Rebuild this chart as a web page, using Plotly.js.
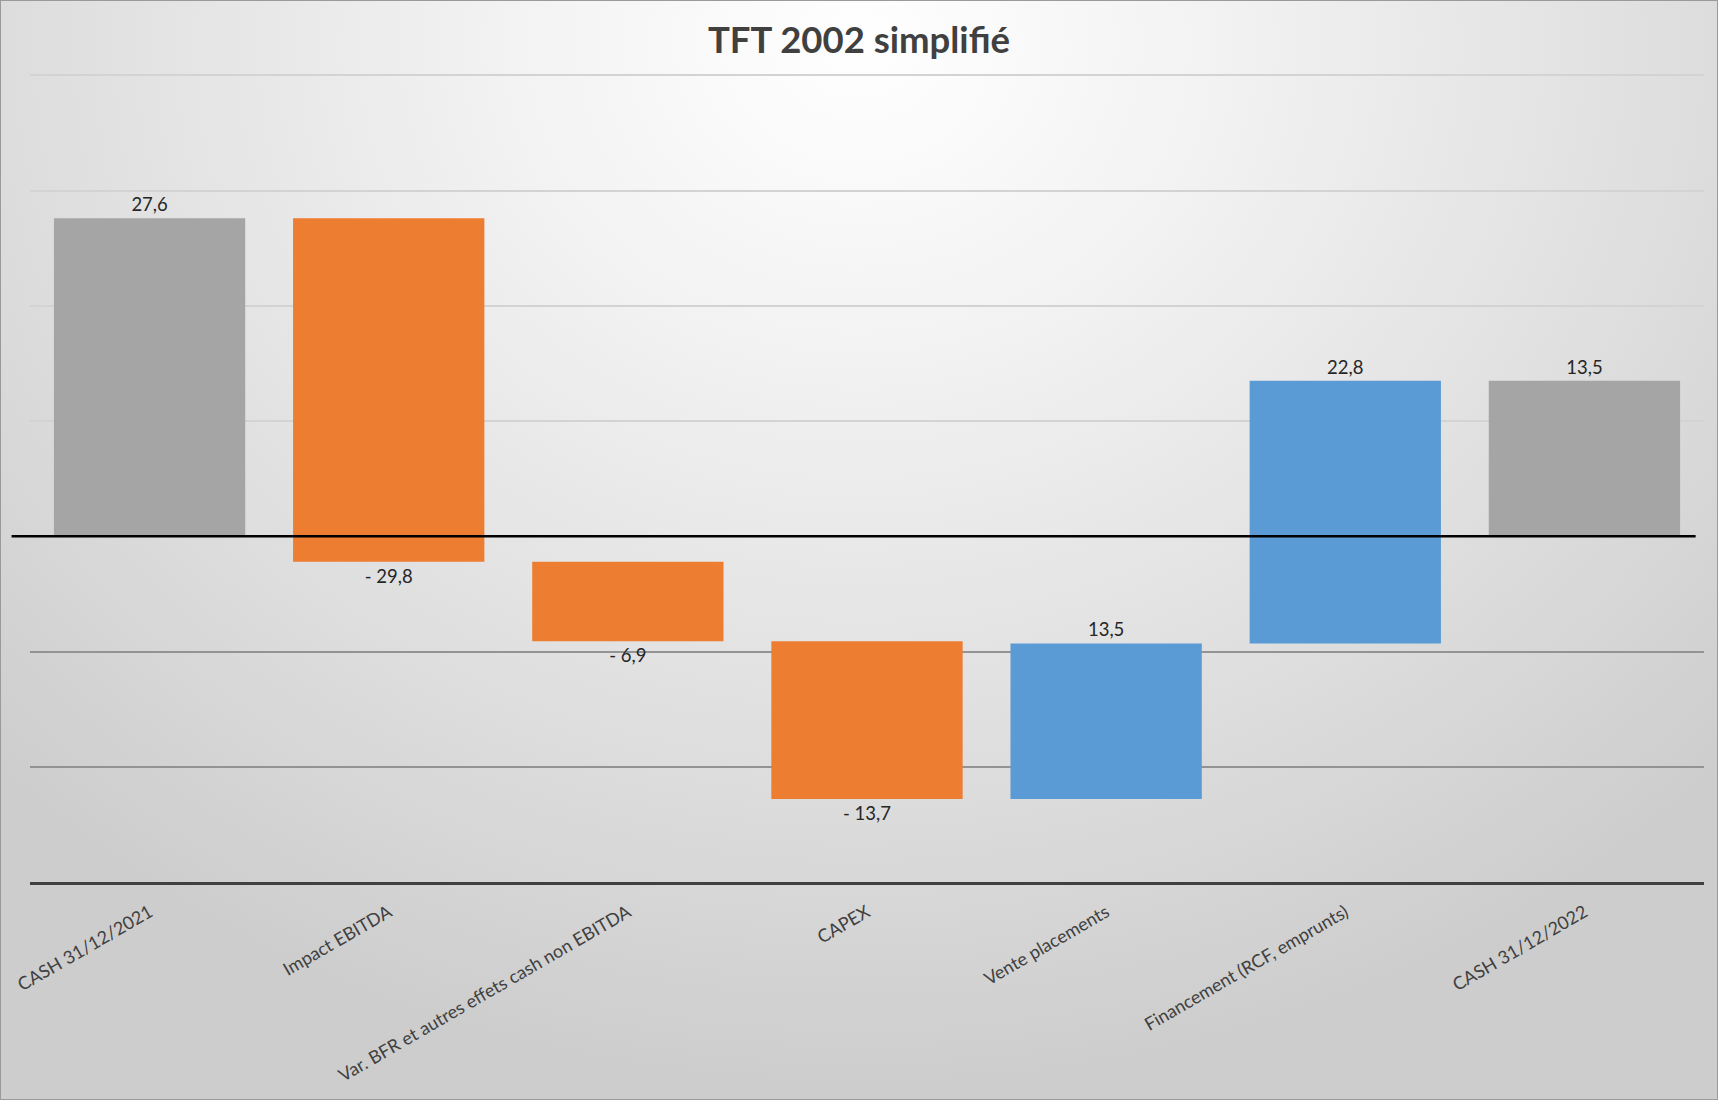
<!DOCTYPE html>
<html>
<head>
<meta charset="utf-8">
<script src="https://cdn.plot.ly/plotly-3.0.1.min.js"></script>
<style>
  html, body { margin: 0; padding: 0; width: 1718px; height: 1100px; overflow: hidden; }
  body {
    background: radial-gradient(ellipse 70% 95% at 50% 4%, #ffffff 0%, #f2f2f2 30%, #e0e0e0 65%, #cdcdcd 100%);
    box-sizing: border-box;
    border: 1px solid #9a9a9a;
  }
  #chart { width: 1716px; height: 1098px; }
</style>
</head>
<body>
<div id="chart"></div>
<script>
const categories = [
  "CASH 31/12/2021",
  "Impact EBITDA",
  "Var. BFR et autres effets cash non EBITDA",
  "CAPEX",
  "Vente placements",
  "Financement (RCF, emprunts)",
  "CASH 31/12/2022"
];
const values = [27.6, -29.8, -6.9, -13.7, 13.5, 22.8, 13.5];
const measures = ["absolute", "relative", "relative", "relative", "relative", "relative", "total"];
const upperGrid = [10, 20, 30, 40];
const lowerGrid = [-20, -10];

const labels = values.map(v => (v < 0 ? "- " : "") + Math.abs(v).toFixed(1).replace(".", ","));

const trace = {
  type: "waterfall",
  x: categories,
  y: values,
  measure: measures,
  text: labels,
  textposition: "outside",
  textfont: { family: "Lato, 'Open Sans', sans-serif", size: 18.5, color: "#262626" },
  cliponaxis: false,
  hoverinfo: "x+y",
  connector: { visible: false },
  increasing: { marker: { color: "#5B9BD5" } },
  decreasing: { marker: { color: "#ED7D31" } },
  totals: { marker: { color: "#A5A5A5" } }
};

// invisible helper trace to activate the second y axis (darker grid lines)
const helper = {
  type: "scatter", x: [categories[0]], y: [0], yaxis: "y2",
  mode: "markers", marker: { opacity: 0 }, hoverinfo: "skip", showlegend: false
};

const yRange = [-30, 40.12];

const layout = {
  width: 1716,
  height: 1098,
  margin: { l: 29, r: 13, t: 73, b: 217 },
  paper_bgcolor: "rgba(0,0,0,0)",
  plot_bgcolor: "rgba(0,0,0,0)",
  showlegend: false,
  bargap: 0.207,
  title: {
    text: "TFT 2002 simplifié",
    font: { family: "Lato, 'Open Sans', sans-serif", size: 36.5, color: "#404040", weight: "bold" },
    x: 0.5, xanchor: "center",
    y: 0.964, yanchor: "middle"
  },
  xaxis: {
    type: "category",
    tickangle: -30,
    tickfont: { family: "Lato, 'Open Sans', sans-serif", size: 18, color: "#404040" },
    showline: true,
    linecolor: "#404040",
    linewidth: 3,
    ticks: "",
    ticklabelstandoff: 10,
    showgrid: false,
    fixedrange: true
  },
  yaxis: {
    range: yRange,
    tickmode: "array",
    tickvals: upperGrid,
    showticklabels: false,
    ticks: "",
    showgrid: true,
    gridcolor: "#d3d3d3",
    gridwidth: 2,
    zeroline: false,
    showline: false,
    fixedrange: true
  },
  yaxis2: {
    overlaying: "y",
    side: "left",
    range: yRange,
    tickmode: "array",
    tickvals: lowerGrid,
    showticklabels: false,
    ticks: "",
    showgrid: true,
    gridcolor: "#939393",
    gridwidth: 2,
    zeroline: false,
    showline: false,
    fixedrange: true
  },
  shapes: [
    {
      type: "line", layer: "above",
      xref: "paper", yref: "y",
      x0: -0.011, x1: 0.995, y0: 0, y1: 0,
      line: { color: "#000000", width: 2.5 }
    }
  ]
};

Plotly.newPlot("chart", [trace, helper], layout, { displayModeBar: false, staticPlot: true });
</script>
</body>
</html>
